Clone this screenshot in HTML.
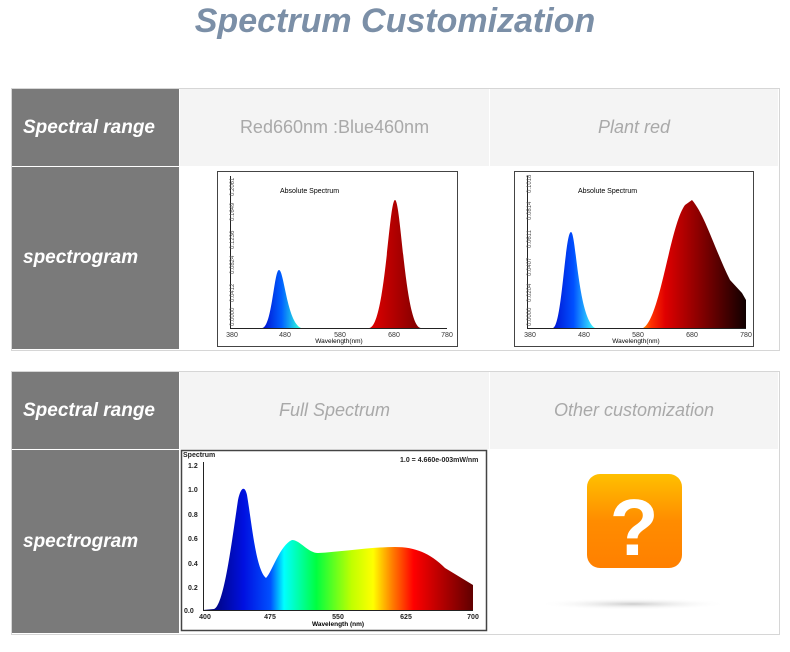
<!DOCTYPE html>
<html><head><meta charset="utf-8"><style>
body{margin:0;width:790px;height:652px;background:#fff;overflow:hidden;font-family:"Liberation Sans",sans-serif;position:relative}
.a{position:absolute}
.title{left:0;width:790px;top:2px;text-align:center;font-size:34px;font-weight:bold;font-style:italic;color:#7b8fa7}
.tbl{border:1px solid #d6d6d6;background:#fff}
.dk{background:#7a7a7a;color:#fff;font-weight:bold;font-style:italic;font-size:19px;display:flex;align-items:center;padding-left:11px;box-sizing:border-box}
.hd{background:#f4f4f4;color:#a9a9a9;font-size:18px;display:flex;align-items:center;justify-content:center}
</style></head><body>
<div class="a title">Spectrum Customization</div>

<div class="a tbl" style="left:11px;top:88px;width:767px;height:261px"></div>
<div class="a dk" style="left:12px;top:89px;width:167px;height:77px">Spectral range</div>
<div class="a hd" style="left:180px;top:89px;width:309px;height:77px">Red660nm :Blue460nm</div>
<div class="a hd" style="left:490px;top:89px;width:288px;height:77px;font-style:italic">Plant red</div>
<div class="a dk" style="left:12px;top:167px;width:167px;height:182px">spectrogram</div>

<div class="a tbl" style="left:11px;top:371px;width:767px;height:262px"></div>
<div class="a dk" style="left:12px;top:372px;width:167px;height:77px">Spectral range</div>
<div class="a hd" style="left:180px;top:372px;width:309px;height:77px;font-style:italic">Full Spectrum</div>
<div class="a hd" style="left:490px;top:372px;width:288px;height:77px;font-style:italic">Other customization</div>
<div class="a dk" style="left:12px;top:450px;width:167px;height:183px">spectrogram</div>

<svg class="a" style="left:0;top:0" width="790" height="652" font-family="Liberation Sans, sans-serif">
<defs>
<linearGradient id="b1" gradientUnits="userSpaceOnUse" x1="263" x2="300"><stop offset="0" stop-color="#0010d0"/><stop offset="0.5" stop-color="#0060ff"/><stop offset="1" stop-color="#30ffe0"/></linearGradient>
<linearGradient id="r1" gradientUnits="userSpaceOnUse" x1="370" x2="420"><stop offset="0" stop-color="#e00000"/><stop offset="1" stop-color="#800000"/></linearGradient>
<linearGradient id="b2" gradientUnits="userSpaceOnUse" x1="552" x2="595"><stop offset="0" stop-color="#0010d0"/><stop offset="0.5" stop-color="#0050ff"/><stop offset="1" stop-color="#40ffff"/></linearGradient>
<linearGradient id="r2" gradientUnits="userSpaceOnUse" x1="638" x2="746"><stop offset="0" stop-color="#ffc000"/><stop offset="0.12" stop-color="#ff3000"/><stop offset="0.25" stop-color="#e00000"/><stop offset="0.6" stop-color="#800000"/><stop offset="1" stop-color="#100000"/></linearGradient>
<linearGradient id="fs" gradientUnits="userSpaceOnUse" x1="203" x2="473">
<stop offset="0" stop-color="#000060"/><stop offset="0.15" stop-color="#0010e0"/><stop offset="0.25" stop-color="#0050ff"/><stop offset="0.3" stop-color="#00ffff"/><stop offset="0.42" stop-color="#00ff40"/><stop offset="0.55" stop-color="#c0ff00"/><stop offset="0.63" stop-color="#ffff00"/><stop offset="0.7" stop-color="#ff8000"/><stop offset="0.78" stop-color="#ff0000"/><stop offset="1" stop-color="#600000"/></linearGradient>
<linearGradient id="q" x1="0" y1="0" x2="0" y2="1"><stop offset="0" stop-color="#ffc000"/><stop offset="0.5" stop-color="#ff8c00"/><stop offset="1" stop-color="#ff8000"/></linearGradient>
<radialGradient id="sh"><stop offset="0" stop-color="#ccc"/><stop offset="1" stop-color="#fff" stop-opacity="0"/></radialGradient>
</defs>
<!-- chart 1 -->
<rect x="217.5" y="171.5" width="240" height="175" fill="#fff" stroke="#444"/>
<line x1="230" y1="328.5" x2="447" y2="328.5" stroke="#222"/>
<line x1="230.5" y1="176" x2="230.5" y2="328" stroke="#222"/>
<path d="M262,328 C272,328 274,270 279,270 C284,270 287,322 301,328 Z" fill="url(#b1)"/>
<path d="M369,328 C385,328 389,200 395,200 C401,200 405,328 421,328 Z" fill="url(#r1)"/>
<text x="280" y="193" font-size="7">Absolute Spectrum</text>
<g font-size="7" fill="#333" text-anchor="middle"><text x="232" y="337">380</text><text x="285" y="337">480</text><text x="340" y="337">580</text><text x="394" y="337">680</text><text x="447" y="337">780</text></g>
<text x="339" y="343" font-size="6.5" text-anchor="middle">Wavelength(nm)</text>
<g font-size="6" fill="#555"><text transform="translate(234,326) rotate(-90)">0.0000</text><text transform="translate(234,302) rotate(-90)">0.0412</text><text transform="translate(234,274) rotate(-90)">0.0824</text><text transform="translate(234,249) rotate(-90)">0.1236</text><text transform="translate(234,221) rotate(-90)">0.1649</text><text transform="translate(234,196) rotate(-90)">0.2061</text></g>
<!-- chart 2 -->
<rect x="514.5" y="171.5" width="239" height="175" fill="#fff" stroke="#444"/>
<line x1="527" y1="328.5" x2="746" y2="328.5" stroke="#222"/>
<line x1="527.5" y1="176" x2="527.5" y2="328" stroke="#222"/>
<path d="M553,328 C562,326 565,232 571,232 C576,232 578,318 595,328 Z" fill="url(#b2)"/>
<path d="M643,328 C660,320 670,225 685,205 L692,200 C705,215 715,250 730,280 L742,293 L746,300 L746,328 Z" fill="url(#r2)"/>
<text x="578" y="193" font-size="7">Absolute Spectrum</text>
<g font-size="7" fill="#333" text-anchor="middle"><text x="530" y="337">380</text><text x="584" y="337">480</text><text x="638" y="337">580</text><text x="692" y="337">680</text><text x="746" y="337">780</text></g>
<text x="636" y="343" font-size="6.5" text-anchor="middle">Wavelength(nm)</text>
<g font-size="6" fill="#555"><text transform="translate(531,326) rotate(-90)">0.0000</text><text transform="translate(531,302) rotate(-90)">0.0204</text><text transform="translate(531,276) rotate(-90)">0.0407</text><text transform="translate(531,248) rotate(-90)">0.0611</text><text transform="translate(531,220) rotate(-90)">0.0814</text><text transform="translate(531,193) rotate(-90)">0.1018</text></g>
<!-- chart 3 -->
<rect x="181.5" y="450.5" width="305" height="180" fill="#fff" stroke="#444" stroke-width="1.5"/>
<line x1="203" y1="610.5" x2="473" y2="610.5" stroke="#222"/>
<line x1="203.5" y1="462" x2="203.5" y2="610" stroke="#222"/>
<path d="M203,610 L214,609 C224,606 232,540 238,500 C241,486 245,486 247,495 C252,525 256,570 266,578 C272,572 280,545 292,540 C300,540 308,553 318,553 C340,552 370,547 395,547 C415,547 430,553 445,568 L473,585 L473,610 Z" fill="url(#fs)"/>
<g font-size="7" font-weight="bold" fill="#222"><text x="183" y="457">Spectrum</text><text x="188" y="468">1.2</text><text x="188" y="492">1.0</text><text x="188" y="517">0.8</text><text x="188" y="541">0.6</text><text x="188" y="566">0.4</text><text x="188" y="590">0.2</text><text x="184" y="613">0.0</text>
<text x="400" y="462">1.0 = 4.660e-003mW/nm</text></g>
<g font-size="7" font-weight="bold" fill="#222" text-anchor="middle"><text x="205" y="619">400</text><text x="270" y="619">475</text><text x="338" y="619">550</text><text x="406" y="619">625</text><text x="473" y="619">700</text></g>
<text x="338" y="626" font-size="6.5" font-weight="bold" text-anchor="middle">Wavelength (nm)</text>
<!-- icon -->
<ellipse cx="633" cy="604" rx="95" ry="6" fill="url(#sh)"/>
<rect x="587" y="474" width="95" height="94" rx="13" fill="url(#q)"/>
<text x="634" y="555" font-size="80" font-weight="bold" fill="#fff" text-anchor="middle">?</text>
</svg>
</body></html>
